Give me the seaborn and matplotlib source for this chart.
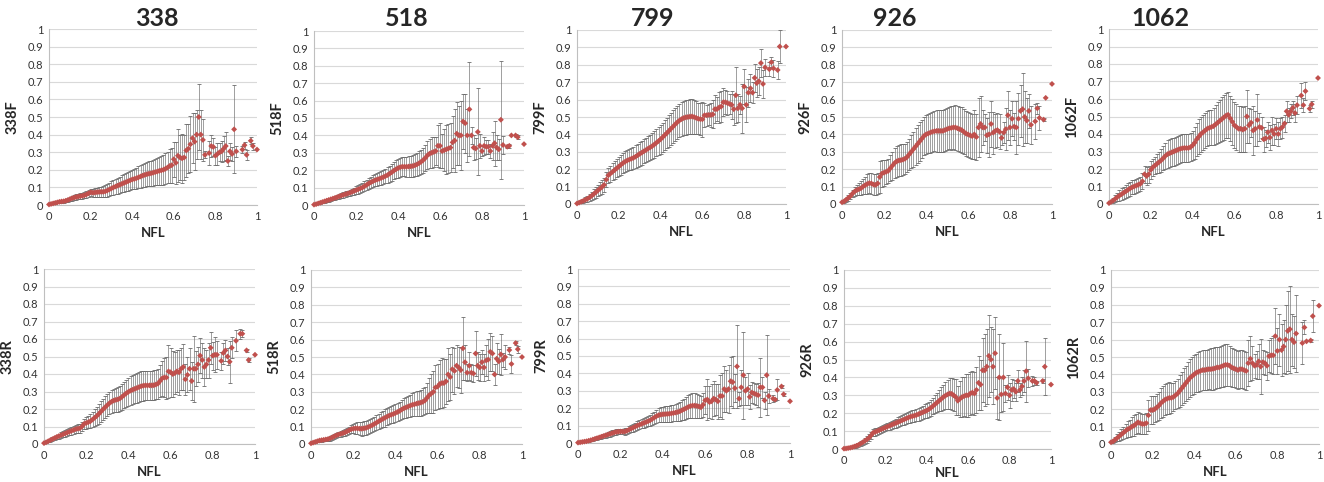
import numpy as np
import pandas as pd
import matplotlib
matplotlib.use("Agg")
import matplotlib.pyplot as plt
import seaborn as sns

# NFL grid (0.00 .. 1.00, step 0.01); None = no point at that position
nfl = np.round(np.arange(0, 1.001, 0.01), 2)

# ---- forward panels ----
mean_338F = [0.003, 0.006, 0.009, 0.012, 0.015, 0.018, 0.020, 0.021, 0.024, 0.028,
             0.033, 0.038, 0.042, 0.045, 0.048, 0.050, 0.052, 0.055, 0.060, 0.066,
             0.072, 0.070, 0.071, 0.073, 0.074, 0.075, 0.075, 0.077, 0.082, 0.088,
             0.094, 0.100, 0.105, 0.110, 0.115, 0.120, 0.125, 0.130, 0.135, 0.140,
             0.145, 0.148, 0.152, 0.157, 0.162, 0.167, 0.171, 0.175, 0.178, 0.180,
             0.183, 0.187, 0.190, 0.194, 0.197, 0.200, 0.206, 0.213, 0.222, 0.226,
             0.26, 0.24, 0.28, 0.27, 0.265, 0.27, 0.31, 0.32, 0.345, 0.38,
             0.36, 0.40, 0.50, 0.40, 0.37, 0.285, None, 0.295, 0.335, 0.33,
             0.28, 0.29, 0.30, 0.305, 0.32, 0.335, 0.25, 0.305, 0.29, 0.43,
             0.305, None, None, 0.315, 0.34, 0.285, None, 0.365, 0.335, None,
             0.315]
err_338F = [0.002, 0.003, 0.004, 0.005, 0.006, 0.006, 0.007, 0.008, 0.009, 0.010,
            0.012, 0.013, 0.014, 0.015, 0.015, 0.016, 0.016, 0.017, 0.018, 0.019,
            0.020, 0.022, 0.024, 0.026, 0.028, 0.030, 0.032, 0.034, 0.036, 0.038,
            0.040, 0.042, 0.043, 0.045, 0.046, 0.048, 0.050, 0.052, 0.053, 0.055,
            0.056, 0.058, 0.060, 0.062, 0.063, 0.065, 0.067, 0.068, 0.070, 0.072,
            0.074, 0.076, 0.078, 0.080, 0.082, 0.084, 0.088, 0.090, 0.095, 0.100,
            0.10, 0.12, 0.15, 0.13, 0.14, 0.13, 0.15, 0.14, 0.16, 0.14,
            0.16, 0.14, 0.19, 0.14, 0.12, 0.02, 0, 0.07, 0.06, 0.05,
            0.05, 0.06, 0.05, 0.06, 0.07, 0.08, 0.03, 0.05, 0.04, 0.25,
            0.03, 0, 0, 0.02, 0.02, 0.03, 0, 0.02, 0.02, 0,
            0]

mean_518F = [0.002, 0.005, 0.009, 0.013, 0.017, 0.021, 0.025, 0.029, 0.033, 0.037,
             0.041, 0.045, 0.050, 0.054, 0.058, 0.062, 0.066, 0.070, 0.075, 0.080,
             0.085, 0.090, 0.095, 0.100, 0.108, 0.115, 0.123, 0.130, 0.136, 0.142,
             0.146, 0.150, 0.155, 0.160, 0.166, 0.172, 0.180, 0.188, 0.197, 0.205,
             0.212, 0.217, 0.220, 0.220, 0.220, 0.221, 0.222, 0.224, 0.228, 0.233,
             0.240, 0.248, 0.258, 0.270, 0.285, 0.295, 0.300, 0.305, 0.310, 0.340,
             0.34, 0.31, 0.315, 0.32, 0.325, 0.33, 0.36, 0.37, 0.41, 0.40,
             0.40, 0.48, 0.47, 0.40, 0.55, 0.40, 0.33, 0.325, 0.42, 0.34,
             0.31, 0.34, 0.335, 0.335, 0.31, 0.34, 0.355, 0.33, 0.32, 0.49,
             0.345, None, 0.335, 0.34, 0.40, None, 0.40, 0.39, None, None,
             0.35]
err_518F = [0.002, 0.003, 0.004, 0.005, 0.006, 0.007, 0.008, 0.009, 0.010, 0.011,
            0.012, 0.013, 0.014, 0.015, 0.016, 0.016, 0.017, 0.018, 0.019, 0.020,
            0.022, 0.024, 0.026, 0.028, 0.030, 0.031, 0.032, 0.033, 0.034, 0.035,
            0.036, 0.037, 0.038, 0.040, 0.042, 0.044, 0.046, 0.048, 0.050, 0.052,
            0.054, 0.055, 0.055, 0.056, 0.057, 0.058, 0.060, 0.062, 0.064, 0.066,
            0.068, 0.070, 0.072, 0.075, 0.080, 0.085, 0.090, 0.085, 0.080, 0.120,
            0.13, 0.10, 0.12, 0.14, 0.14, 0.14, 0.15, 0.18, 0.18, 0.17,
            0.20, 0.16, 0.17, 0.15, 0.27, 0.05, 0.07, 0.06, 0.25, 0.07,
            0.03, 0.05, 0.04, 0.04, 0.04, 0.08, 0.13, 0.07, 0.06, 0.34,
            0.05, 0, 0.01, 0.01, 0, 0, 0.01, 0.01, 0, 0,
            0]

mean_799F = [0.003, 0.008, 0.013, 0.018, 0.024, 0.030, 0.038, 0.047, 0.057, 0.067,
             0.078, 0.088, 0.098, 0.110, 0.140, 0.165, 0.175, 0.185, 0.195, 0.205,
             0.215, 0.225, 0.235, 0.243, 0.250, 0.255, 0.260, 0.265, 0.272, 0.280,
             0.288, 0.295, 0.303, 0.310, 0.318, 0.325, 0.333, 0.342, 0.352, 0.362,
             0.372, 0.384, 0.396, 0.408, 0.420, 0.433, 0.445, 0.458, 0.470, 0.480,
             0.488, 0.494, 0.498, 0.500, 0.502, 0.503, 0.500, 0.495, 0.490, 0.488,
             0.487, 0.51, 0.51, 0.512, 0.512, 0.515, 0.545, 0.545, 0.555, 0.56,
             0.585, 0.585, 0.58, 0.575, 0.57, 0.545, 0.625, 0.55, 0.57, 0.55,
             0.675, 0.57, 0.64, 0.665, 0.64, 0.725, 0.695, 0.705, 0.81, 0.69,
             0.785, None, 0.775, 0.815, 0.78, None, 0.77, 0.905, None, None,
             0.905]
err_799F = [0.003, 0.006, 0.009, 0.012, 0.015, 0.018, 0.021, 0.024, 0.027, 0.030,
            0.033, 0.036, 0.038, 0.040, 0.042, 0.044, 0.046, 0.048, 0.050, 0.052,
            0.054, 0.056, 0.058, 0.060, 0.061, 0.062, 0.063, 0.064, 0.065, 0.066,
            0.067, 0.068, 0.069, 0.070, 0.071, 0.072, 0.074, 0.076, 0.078, 0.080,
            0.082, 0.084, 0.086, 0.088, 0.090, 0.092, 0.094, 0.095, 0.096, 0.097,
            0.098, 0.099, 0.100, 0.100, 0.100, 0.100, 0.100, 0.095, 0.090, 0.090,
            0.10, 0.07, 0.06, 0.06, 0.07, 0.08, 0.08, 0.07, 0.09, 0.09,
            0.08, 0.07, 0.07, 0.06, 0.08, 0.09, 0.16, 0.08, 0.05, 0.14,
            0.10, 0.10, 0.08, 0.08, 0.06, 0.08, 0.08, 0.08, 0.08, 0.08,
            0.05, 0, 0.04, 0.03, 0.05, 0, 0.05, 0.095, 0, 0,
            0]

mean_926F = [0.010, 0.015, 0.025, 0.035, 0.045, 0.060, 0.072, 0.080, 0.085, 0.090,
             0.100, 0.108, 0.115, 0.120, 0.118, 0.112, 0.110, 0.118, 0.155, 0.175,
             0.180, 0.185, 0.190, 0.205, 0.220, 0.235, 0.245, 0.250, 0.252, 0.255,
             0.260, 0.270, 0.285, 0.300, 0.315, 0.330, 0.345, 0.360, 0.375, 0.390,
             0.400, 0.405, 0.410, 0.415, 0.418, 0.420, 0.420, 0.420, 0.420, 0.425,
             0.430, 0.435, 0.437, 0.440, 0.440, 0.435, 0.430, 0.425, 0.415, 0.405,
             0.40, 0.395, 0.39, 0.40, 0.385, 0.44, 0.46, 0.44, 0.44, 0.395,
             0.40, 0.46, 0.41, 0.42, 0.425, 0.415, 0.38, 0.41, 0.43, 0.51,
             0.44, 0.49, 0.445, 0.44, 0.49, 0.535, 0.545, 0.50, 0.48, 0.535,
             0.455, None, 0.475, 0.55, 0.495, None, 0.485, 0.61, None, None,
             0.69]
err_926F = [0.005, 0.008, 0.012, 0.015, 0.018, 0.022, 0.025, 0.030, 0.035, 0.040,
            0.045, 0.050, 0.055, 0.058, 0.060, 0.060, 0.060, 0.060, 0.090, 0.080,
            0.075, 0.070, 0.070, 0.075, 0.080, 0.085, 0.090, 0.090, 0.090, 0.090,
            0.085, 0.085, 0.090, 0.095, 0.100, 0.105, 0.110, 0.110, 0.110, 0.110,
            0.110, 0.110, 0.115, 0.115, 0.115, 0.120, 0.120, 0.120, 0.120, 0.120,
            0.120, 0.120, 0.125, 0.125, 0.130, 0.130, 0.130, 0.130, 0.130, 0.130,
            0.13, 0.13, 0.13, 0.14, 0.13, 0.17, 0.16, 0.10, 0.08, 0.10,
            0.13, 0.13, 0.12, 0.10, 0.10, 0.10, 0.04, 0.06, 0.12, 0.14,
            0.10, 0.10, 0.08, 0.15, 0.15, 0.15, 0.21, 0.15, 0.13, 0.10,
            0.11, 0, 0.10, 0.03, 0.07, 0, 0.01, 0, 0, 0,
            0]

mean_1062F = [0.005, 0.012, 0.020, 0.030, 0.040, 0.048, 0.056, 0.064, 0.072, 0.080,
              0.088, 0.095, 0.100, 0.105, 0.110, 0.115, 0.130, 0.170, 0.160, 0.170,
              0.195, 0.210, 0.220, 0.230, 0.240, 0.250, 0.262, 0.275, 0.285, 0.290,
              0.295, 0.300, 0.305, 0.310, 0.315, 0.318, 0.320, 0.320, 0.320, 0.325,
              0.335, 0.350, 0.370, 0.385, 0.400, 0.410, 0.420, 0.430, 0.435, 0.440,
              0.445, 0.455, 0.465, 0.475, 0.485, 0.495, 0.505, 0.510, 0.490, 0.470,
              0.45, 0.44, 0.43, 0.43, 0.425, 0.43, 0.50, 0.45, 0.465, 0.42,
              0.43, 0.48, 0.44, 0.435, 0.37, 0.375, 0.41, 0.38, 0.42, 0.40,
              0.43, 0.40, 0.43, 0.44, 0.46, 0.53, 0.51, 0.53, 0.55, 0.52,
              0.565, None, 0.62, 0.565, 0.645, None, 0.545, 0.57, None, None,
              0.72]
err_1062F = [0.005, 0.010, 0.015, 0.020, 0.025, 0.030, 0.033, 0.036, 0.038, 0.040,
             0.040, 0.040, 0.040, 0.040, 0.040, 0.040, 0.045, 0.050, 0.050, 0.050,
             0.050, 0.050, 0.050, 0.055, 0.060, 0.065, 0.070, 0.075, 0.080, 0.080,
             0.080, 0.080, 0.080, 0.080, 0.080, 0.080, 0.080, 0.080, 0.080, 0.080,
             0.085, 0.090, 0.095, 0.100, 0.100, 0.100, 0.100, 0.100, 0.100, 0.100,
             0.105, 0.110, 0.115, 0.120, 0.125, 0.130, 0.130, 0.130, 0.130, 0.130,
             0.13, 0.13, 0.13, 0.13, 0.13, 0.13, 0.15, 0.10, 0.08, 0.14,
             0.10, 0.15, 0.08, 0.06, 0.07, 0.05, 0.06, 0.07, 0.08, 0.06,
             0.06, 0.07, 0.06, 0.06, 0.05, 0.06, 0.04, 0.04, 0.04, 0.05,
             0.05, 0, 0.07, 0.04, 0.05, 0, 0.02, 0.02, 0, 0,
             0]

# ---- reverse panels ----
mean_338R = [0.005, 0.010, 0.016, 0.022, 0.028, 0.034, 0.040, 0.045, 0.050, 0.055,
             0.060, 0.065, 0.070, 0.075, 0.080, 0.085, 0.088, 0.090, 0.100, 0.115,
             0.120, 0.125, 0.130, 0.140, 0.150, 0.160, 0.172, 0.185, 0.198, 0.210,
             0.222, 0.233, 0.242, 0.248, 0.252, 0.255, 0.260, 0.270, 0.280, 0.290,
             0.298, 0.305, 0.310, 0.315, 0.320, 0.325, 0.330, 0.333, 0.335, 0.335,
             0.335, 0.335, 0.336, 0.340, 0.345, 0.360, 0.375, 0.380, 0.380, 0.415,
             0.41, 0.40, 0.405, 0.415, 0.41, 0.43, 0.44, 0.37, 0.395, 0.43,
             0.36, 0.43, 0.43, 0.455, 0.505, 0.48, 0.44, 0.455, 0.48, 0.55,
             0.505, 0.51, 0.51, None, 0.475, 0.52, 0.535, 0.50, 0.47, 0.55,
             None, 0.59, None, 0.63, 0.63, None, 0.535, 0.48, None, None,
             0.51]
err_338R = [0.003, 0.005, 0.007, 0.009, 0.011, 0.013, 0.014, 0.015, 0.016, 0.017,
            0.018, 0.019, 0.020, 0.021, 0.022, 0.023, 0.024, 0.025, 0.027, 0.030,
            0.033, 0.036, 0.040, 0.044, 0.048, 0.052, 0.055, 0.058, 0.060, 0.062,
            0.063, 0.064, 0.065, 0.066, 0.068, 0.070, 0.072, 0.074, 0.076, 0.078,
            0.080, 0.081, 0.082, 0.083, 0.084, 0.085, 0.085, 0.085, 0.085, 0.085,
            0.085, 0.085, 0.085, 0.085, 0.085, 0.090, 0.100, 0.110, 0.120, 0.150,
            0.14, 0.13, 0.12, 0.12, 0.13, 0.12, 0.13, 0.09, 0.10, 0.12,
            0.11, 0.19, 0.10, 0.10, 0.10, 0.10, 0.11, 0.08, 0.10, 0.09,
            0.08, 0.10, 0.08, 0, 0.05, 0.06, 0.06, 0.05, 0.12, 0.06,
            0, 0.06, 0, 0.03, 0.02, 0, 0.01, 0.01, 0, 0,
            0]

mean_518R = [0.004, 0.008, 0.012, 0.016, 0.020, 0.022, 0.024, 0.026, 0.028, 0.032,
             0.038, 0.044, 0.050, 0.054, 0.058, 0.062, 0.066, 0.072, 0.078, 0.085,
             0.088, 0.090, 0.090, 0.088, 0.088, 0.090, 0.092, 0.097, 0.102, 0.108,
             0.115, 0.122, 0.130, 0.137, 0.144, 0.150, 0.157, 0.163, 0.168, 0.172,
             0.178, 0.184, 0.190, 0.198, 0.205, 0.210, 0.215, 0.220, 0.225, 0.228,
             0.232, 0.235, 0.238, 0.242, 0.250, 0.265, 0.280, 0.290, 0.300, 0.325,
             0.33, 0.345, 0.35, 0.35, 0.36, 0.40, 0.385, 0.43, 0.42, 0.45,
             0.44, 0.425, 0.55, 0.47, 0.41, 0.45, 0.41, 0.405, 0.52, 0.45,
             0.44, 0.47, 0.44, 0.48, 0.485, 0.53, 0.52, 0.40, 0.49, 0.475,
             0.515, 0.485, 0.50, None, 0.54, 0.46, None, 0.58, 0.545, None,
             0.50]
err_518R = [0.003, 0.004, 0.005, 0.006, 0.007, 0.008, 0.009, 0.010, 0.011, 0.012,
            0.013, 0.014, 0.015, 0.016, 0.017, 0.018, 0.019, 0.020, 0.021, 0.022,
            0.025, 0.030, 0.035, 0.038, 0.040, 0.040, 0.040, 0.040, 0.040, 0.040,
            0.040, 0.042, 0.044, 0.046, 0.048, 0.050, 0.050, 0.050, 0.050, 0.050,
            0.050, 0.052, 0.054, 0.056, 0.058, 0.060, 0.062, 0.064, 0.066, 0.068,
            0.070, 0.072, 0.075, 0.078, 0.080, 0.085, 0.100, 0.110, 0.120, 0.130,
            0.13, 0.14, 0.145, 0.14, 0.13, 0.15, 0.13, 0.13, 0.13, 0.12,
            0.12, 0.13, 0.18, 0.10, 0.05, 0.08, 0.05, 0.05, 0.13, 0.08,
            0.08, 0.07, 0.08, 0.09, 0.12, 0.11, 0.10, 0.06, 0.09, 0.07,
            0.12, 0.04, 0.07, 0, 0.02, 0.05, 0, 0.01, 0.02, 0,
            0]

mean_799R = [0.002, 0.004, 0.006, 0.008, 0.010, 0.013, 0.016, 0.020, 0.024, 0.028,
             0.032, 0.036, 0.040, 0.044, 0.048, 0.052, 0.056, 0.060, 0.063, 0.065,
             0.066, 0.066, 0.066, 0.070, 0.076, 0.082, 0.088, 0.094, 0.100, 0.105,
             0.110, 0.115, 0.120, 0.125, 0.130, 0.138, 0.146, 0.154, 0.160, 0.163,
             0.165, 0.166, 0.167, 0.168, 0.170, 0.172, 0.175, 0.178, 0.182, 0.188,
             0.194, 0.200, 0.207, 0.212, 0.215, 0.215, 0.213, 0.210, 0.205, 0.220,
             0.245, 0.25, 0.235, 0.24, 0.255, 0.25, 0.24, 0.27, 0.27, 0.31,
             0.30, 0.31, 0.355, 0.35, 0.315, 0.44, 0.255, 0.32, 0.39, 0.30,
             0.31, 0.265, 0.29, 0.285, 0.28, 0.275, 0.32, 0.32, 0.245, 0.39,
             0.27, None, 0.255, 0.25, 0.305, None, 0.325, 0.28, None, None,
             0.24]
err_799R = [0.001, 0.002, 0.003, 0.004, 0.005, 0.006, 0.007, 0.008, 0.009, 0.010,
            0.011, 0.012, 0.013, 0.014, 0.015, 0.016, 0.016, 0.016, 0.016, 0.016,
            0.016, 0.017, 0.018, 0.019, 0.020, 0.021, 0.022, 0.023, 0.024, 0.025,
            0.026, 0.027, 0.028, 0.029, 0.030, 0.032, 0.035, 0.038, 0.040, 0.042,
            0.043, 0.044, 0.045, 0.046, 0.047, 0.048, 0.050, 0.052, 0.055, 0.058,
            0.060, 0.063, 0.066, 0.068, 0.070, 0.070, 0.068, 0.065, 0.063, 0.070,
            0.08, 0.12, 0.09, 0.10, 0.10, 0.09, 0.10, 0.12, 0.13, 0.13,
            0.12, 0.14, 0.14, 0.15, 0.08, 0.24, 0.04, 0.10, 0.25, 0.08,
            0.09, 0.07, 0.06, 0.06, 0.06, 0.07, 0.17, 0.06, 0.05, 0.23,
            0.04, 0, 0.02, 0.01, 0.06, 0, 0.01, 0.01, 0, 0,
            0]

mean_926R = [0.002, 0.003, 0.005, 0.007, 0.010, 0.014, 0.018, 0.023, 0.030, 0.037,
             0.045, 0.053, 0.062, 0.075, 0.090, 0.095, 0.100, 0.105, 0.110, 0.115,
             0.120, 0.125, 0.130, 0.135, 0.140, 0.145, 0.150, 0.155, 0.160, 0.165,
             0.170, 0.175, 0.180, 0.183, 0.186, 0.190, 0.195, 0.200, 0.205, 0.210,
             0.215, 0.222, 0.230, 0.240, 0.250, 0.260, 0.270, 0.280, 0.290, 0.298,
             0.305, 0.310, 0.308, 0.300, 0.290, 0.270, 0.280, 0.290, 0.295, 0.300,
             0.30, 0.31, 0.315, 0.31, 0.33, 0.37, 0.36, 0.44, 0.44, 0.46,
             0.52, 0.50, 0.46, 0.535, 0.285, 0.40, 0.305, 0.40, 0.31, 0.345,
             0.30, 0.33, 0.335, 0.32, 0.38, 0.33, 0.35, 0.38, 0.435, 0.395,
             None, 0.38, 0.38, 0.37, None, None, 0.38, 0.46, None, None,
             0.36]
err_926R = [0.002, 0.003, 0.004, 0.005, 0.006, 0.008, 0.010, 0.012, 0.014, 0.016,
            0.018, 0.020, 0.020, 0.020, 0.020, 0.020, 0.020, 0.020, 0.020, 0.020,
            0.020, 0.021, 0.022, 0.023, 0.024, 0.025, 0.026, 0.027, 0.028, 0.029,
            0.030, 0.031, 0.032, 0.033, 0.034, 0.035, 0.036, 0.037, 0.038, 0.039,
            0.040, 0.042, 0.044, 0.046, 0.050, 0.055, 0.060, 0.065, 0.070, 0.075,
            0.080, 0.085, 0.090, 0.090, 0.100, 0.080, 0.100, 0.110, 0.110, 0.120,
            0.12, 0.12, 0.12, 0.12, 0.13, 0.15, 0.14, 0.18, 0.20, 0.21,
            0.23, 0.18, 0.21, 0.20, 0.12, 0.24, 0.10, 0.19, 0.05, 0.07,
            0.07, 0.06, 0.05, 0.05, 0.06, 0.04, 0.05, 0.06, 0.17, 0.05,
            0, 0.03, 0.02, 0.01, 0, 0, 0.01, 0.16, 0, 0,
            0]

mean_1062R = [0.010, 0.015, 0.025, 0.035, 0.045, 0.055, 0.065, 0.075, 0.085, 0.090,
              0.100, 0.105, 0.115, 0.125, 0.120, 0.115, 0.115, 0.120, 0.165, 0.195,
              0.195, 0.200, 0.210, 0.220, 0.235, 0.245, 0.255, 0.260, 0.265, 0.265,
              0.270, 0.280, 0.290, 0.305, 0.320, 0.335, 0.350, 0.365, 0.380, 0.390,
              0.400, 0.410, 0.415, 0.420, 0.425, 0.425, 0.428, 0.430, 0.430, 0.432,
              0.435, 0.440, 0.440, 0.445, 0.450, 0.455, 0.455, 0.450, 0.440, 0.435,
              0.43, 0.425, 0.43, 0.43, 0.425, 0.42, 0.465, 0.49, 0.465, 0.45,
              0.455, 0.475, 0.445, 0.47, 0.465, 0.45, 0.505, 0.51, 0.51, 0.62,
              0.535, 0.60, 0.54, 0.56, 0.60, 0.65, 0.66, 0.60, 0.585, 0.635,
              None, None, 0.58, 0.67, 0.59, None, 0.595, 0.735, None, None,
              0.795]
err_1062R = [0.005, 0.010, 0.015, 0.020, 0.025, 0.030, 0.035, 0.040, 0.045, 0.050,
             0.055, 0.060, 0.060, 0.060, 0.060, 0.060, 0.060, 0.060, 0.090, 0.080,
             0.080, 0.075, 0.075, 0.080, 0.085, 0.090, 0.090, 0.090, 0.090, 0.085,
             0.080, 0.080, 0.085, 0.090, 0.095, 0.100, 0.100, 0.105, 0.110, 0.110,
             0.110, 0.110, 0.115, 0.115, 0.115, 0.115, 0.115, 0.115, 0.120, 0.120,
             0.120, 0.120, 0.120, 0.120, 0.120, 0.120, 0.120, 0.115, 0.110, 0.110,
             0.11, 0.11, 0.11, 0.11, 0.11, 0.11, 0.13, 0.13, 0.10, 0.07,
             0.08, 0.10, 0.16, 0.07, 0.07, 0.08, 0.09, 0.10, 0.11, 0.16,
             0.13, 0.15, 0.15, 0.15, 0.20, 0.23, 0.25, 0.15, 0.15, 0.22,
             0, 0, 0.12, 0.04, 0, 0, 0.01, 0.09, 0, 0,
             0]

col_titles = ["338", "518", "799", "926", "1062"]
panel_labels = ["338F", "518F", "799F", "926F", "1062F",
                "338R", "518R", "799R", "926R", "1062R"]
panel_means = [mean_338F, mean_518F, mean_799F, mean_926F, mean_1062F,
               mean_338R, mean_518R, mean_799R, mean_926R, mean_1062R]
panel_errs = [err_338F, err_518F, err_799F, err_926F, err_1062F,
              err_338R, err_518R, err_799R, err_926R, err_1062R]

# plot-area boxes in pixels (x0, x1, ytop, ybottom)
W, H = 1324, 482
boxes = [(49, 257, 29, 205), (314, 524, 31, 205), (577, 786, 30, 204),
         (842, 1052, 30, 204), (1109, 1318, 29, 204),
         (44, 255, 269, 444), (311, 522, 270, 444), (578, 790, 269, 443),
         (844, 1051, 270, 449), (1111, 1319, 270, 444)]
xlabel_pad = [4, 4, 4, 4, 4, 4, 4, 4, 1, 4]
title_x = [157, 407, 653, 895, 1160]

sns.set_style("white")
plt.rcParams["font.family"] = ["Lato", "DejaVu Sans"]

fig = plt.figure(figsize=(W / 100, H / 100), dpi=100)
fig.patch.set_facecolor("white")

for (x0, x1, yt, yb), pad, label, m, e in zip(boxes, xlabel_pad, panel_labels,
                                               panel_means, panel_errs):
    ax = fig.add_axes([x0 / W, 1 - yb / H, (x1 - x0) / W, (yb - yt) / H])
    df = pd.DataFrame({"NFL": nfl,
                       label: np.array(m, dtype=float),
                       "err": np.array(e, dtype=float)}).dropna(subset=[label])
    bars = df[df["err"] > 0]
    ax.errorbar(bars["NFL"], bars[label], yerr=bars["err"], fmt="none",
                ecolor="#6a6a6a", elinewidth=0.45, capsize=1.3, capthick=0.6,
                zorder=2)
    sns.scatterplot(data=df, x="NFL", y=label, ax=ax, marker="D", s=9,
                    color="#C0504D", edgecolor="none", zorder=3, clip_on=False)
    ax.set_xlim(0, 1)
    ax.set_ylim(0, 1)
    ax.set_xticks(np.arange(0, 1.01, 0.2))
    ax.set_xticklabels(["0", "0.2", "0.4", "0.6", "0.8", "1"])
    ax.set_yticks(np.arange(0, 1.01, 0.1))
    ax.set_yticklabels(["0", "0.1", "0.2", "0.3", "0.4", "0.5",
                        "0.6", "0.7", "0.8", "0.9", "1"])
    ax.yaxis.grid(True, color="#d9d9d9", linewidth=0.8)
    ax.xaxis.grid(False)
    ax.set_axisbelow(True)
    for s in ["top", "right"]:
        ax.spines[s].set_visible(False)
    for s in ["left", "bottom"]:
        ax.spines[s].set_color("#bfbfbf")
        ax.spines[s].set_linewidth(0.8)
    ax.tick_params(axis="both", length=0, labelsize=8, colors="#333333", pad=4)
    ax.set_xlabel("NFL", fontsize=9.5, fontweight="bold", labelpad=pad)
    ax.set_ylabel(label, fontsize=10.5, fontweight="bold", labelpad=6)

for tx, t in zip(title_x, col_titles):
    fig.text(tx / W, 1 - 19 / H, t, ha="center", va="center",
             fontsize=18, fontweight="bold")

fig.savefig("out.png", dpi=100, facecolor="white")
